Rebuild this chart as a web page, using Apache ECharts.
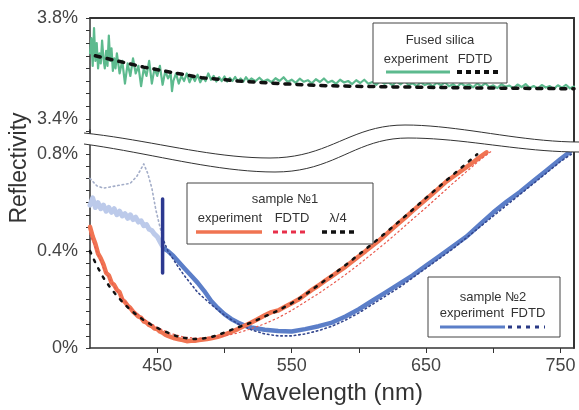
<!DOCTYPE html>
<html>
<head>
<meta charset="utf-8">
<script src="https://cdn.jsdelivr.net/npm/echarts@6/dist/echarts.min.js"></script>
<style>
  html, body { margin: 0; padding: 0; background: #fff; }
  #chart { width: 579px; height: 410px; }
</style>
</head>
<body>
<div id="chart"></div>
<script>
// ---- data (wavelength in nm, reflectivity in %) ----
const silicaExpX = [400,401,402,403,404,405,406,407,408,409,410,411,412,413,414,415,416,417,418,419,420,422,424,426,428,430,432,434,436,438,440,442,444,446,448,450,452,454,456,458,460,461,462,464,466,468,470,472,474,476,478,480,482,484,486,488,490,492,494,496,498,500,502,504,506,508,510,512,514,516,518,
  520,523,526,529,532,535,538,541,544,547,550,553,556,559,562,565,568,571,574,577,580,583,586,589,592,595,598,601,604,607,610,613,616,619,622,625,628,631,634,637,640,643,646,649,652,655,658,661,664,667,670,673,676,679,682,685,688,691,694,697,700,703,706,709,712,715,718,721,724,727,730,733,736,739,742,745,748,751,754,757,760];
const silicaExpY = [3.66,3.72,3.61,3.76,3.63,3.70,3.60,3.66,3.62,3.71,3.64,3.60,3.67,3.61,3.73,3.63,3.68,3.59,3.64,3.60,3.66,3.58,3.63,3.54,3.62,3.57,3.64,3.58,3.61,3.53,3.60,3.57,3.63,3.54,3.60,3.57,3.61,3.535,3.59,3.56,3.58,3.51,3.55,3.58,3.54,3.57,3.55,3.58,3.545,3.57,3.55,3.575,3.545,3.565,3.55,3.58,3.555,3.57,3.548,3.565,3.55,3.568,3.548,3.562,3.55,3.566,3.549,3.56,3.547,3.565,3.55,
  3.560,3.549,3.563,3.548,3.556,3.545,3.561,3.550,3.565,3.546,3.555,3.543,3.559,3.547,3.553,3.541,3.557,3.546,3.560,3.544,3.551,3.539,3.555,3.544,3.550,3.538,3.553,3.542,3.555,3.539,3.546,3.535,3.550,3.539,3.545,3.533,3.548,3.537,3.550,3.534,3.541,3.530,3.545,3.534,3.540,3.529,3.543,3.533,3.545,3.529,3.537,3.526,3.541,3.530,3.536,3.525,3.540,3.529,3.541,3.526,3.533,3.522,3.537,3.527,3.532,3.521,3.536,3.526,3.538,3.522,3.530,3.520,3.534,3.524,3.530,3.519,3.533,3.523,3.535,3.521,3.528];
const silicaFdtdX = [404,420,440,460,483,510,543,577,620,680,760];
const silicaFdtdY = [3.65,3.63,3.605,3.585,3.563,3.55,3.539,3.531,3.527,3.523,3.519];

const s1ExpX = [400,402,404,406,408,410,412,414,416,418,420,422,424,426,428,430,432,434,436,438,440,442,444,446,448,450,452,454,456,458,460,463,466,469,472,475,478,481,484,487,490,495,500,505,510,515,520,525,530,535,540,545,550,555,560,565,570,575,580,585,590,595,600,605,610,615,620,625,630,635,640,645,650,655,660,665,670,675,680,685,690,695];
const s1ExpY = [0.50,0.46,0.43,0.39,0.37,0.345,0.31,0.30,0.27,0.26,0.24,0.23,0.20,0.19,0.175,0.165,0.15,0.14,0.13,0.125,0.11,0.105,0.095,0.09,0.08,0.078,0.068,0.063,0.055,0.05,0.046,0.04,0.036,0.033,0.028,0.03,0.03,0.033,0.035,0.037,0.04,0.046,0.055,0.066,0.078,0.092,0.105,0.12,0.135,0.148,0.155,0.17,0.185,0.20,0.22,0.24,0.258,0.278,0.297,0.316,0.335,0.357,0.379,0.40,0.422,0.444,0.468,0.493,0.517,0.541,0.566,0.59,0.614,0.638,0.662,0.687,0.707,0.727,0.747,0.767,0.788,0.808];
const s1FdtdX = [400,410,420,430,440,450,460,470,480,490,500,510,520,530,540,550,560,570,580,590,600,610,620,630,640,650,660,670,680,690,698];
const s1FdtdY = [0.47,0.33,0.235,0.165,0.12,0.085,0.06,0.045,0.04,0.042,0.05,0.062,0.08,0.10,0.125,0.155,0.19,0.225,0.263,0.303,0.345,0.39,0.435,0.483,0.532,0.58,0.63,0.68,0.728,0.776,0.81];
const quarterX = [400,405,410,415,420,425,430,435,440,445,450,455,460,465,470,475,480,485,490,495,500,510,520,530,540,550,560,570,580,590,600,610,620,630,640,650,660,670,680,688];
const quarterY = [0.40,0.34,0.29,0.25,0.215,0.185,0.158,0.135,0.115,0.098,0.083,0.07,0.058,0.048,0.042,0.038,0.037,0.04,0.045,0.053,0.064,0.085,0.105,0.13,0.155,0.185,0.22,0.26,0.30,0.342,0.386,0.43,0.476,0.523,0.571,0.62,0.668,0.715,0.762,0.80];

const s2ExpLightX = [400,402,404,406,408,410,412,414,416,418,420,422,424,426,428,430,432,434,436,438,440,442,444,446,448,450,452,454];
const s2ExpLightY = [0.59,0.62,0.58,0.60,0.575,0.59,0.565,0.58,0.56,0.575,0.55,0.565,0.545,0.555,0.535,0.55,0.53,0.54,0.52,0.525,0.505,0.51,0.49,0.485,0.47,0.46,0.44,0.42];
const s2ExpX = [455,458,462,466,470,475,480,485,490,495,500,505,510,515,520,530,540,550,560,570,580,590,600,610,620,630,640,650,660,670,680,690,700,710,720,730,740,750,757];
const s2ExpY = [0.41,0.40,0.38,0.355,0.33,0.30,0.27,0.235,0.195,0.165,0.14,0.12,0.105,0.093,0.085,0.075,0.07,0.068,0.078,0.09,0.105,0.13,0.16,0.195,0.23,0.265,0.30,0.34,0.38,0.42,0.46,0.51,0.56,0.605,0.645,0.69,0.735,0.78,0.81];
const s2FdtdLightX = [400,405,410,415,420,425,430,435,440,443,446,449,452,455];
const s2FdtdLightY = [0.70,0.67,0.66,0.665,0.67,0.675,0.68,0.71,0.76,0.72,0.66,0.57,0.50,0.44];
const s2FdtdX = [455,458,465,470,480,490,500,510,520,530,540,550,560,570,580,590,600,610,620,630,640,650,660,670,680,690,700,710,720,730,740,750,758];
const s2FdtdY = [0.44,0.40,0.34,0.30,0.23,0.18,0.135,0.10,0.075,0.058,0.05,0.05,0.058,0.072,0.09,0.115,0.145,0.18,0.215,0.25,0.29,0.33,0.37,0.41,0.455,0.50,0.545,0.59,0.635,0.68,0.725,0.77,0.80];
const markerX = [454,454];
const markerY = [0.31,0.615];

// ---- ticks / labels ----
const xTicks = [450,500,550,600,650,700,750];
const xLabels = [450,550,650,750];
const topTicks = [3.35,3.4,3.45,3.5,3.55,3.6,3.65,3.7,3.75,3.8];
const topLabels = [3.4,3.8];
const lowTicks = [0,0.05,0.1,0.15,0.2,0.25,0.3,0.35,0.4,0.45,0.5,0.55,0.6,0.65,0.7,0.75,0.8];
const lowLabels = [0,0.4,0.8];

const zip = (xs, ys) => xs.map((x, i) => [x, ys[i]]);
const pct = v => (Math.round(v * 10) / 10) + '%';

const FONT = 'Liberation Sans, Arial, sans-serif';
const AXIS = '#333';

const chart = echarts.init(document.getElementById('chart'));

function line(name, xs, ys, grid, color, width, type) {
  return {
    name: name,
    type: 'line',
    xAxisIndex: grid,
    yAxisIndex: grid === 0 ? 0 : 2,
    data: zip(xs, ys),
    showSymbol: false,
    symbol: 'none',
    animation: false,
    lineStyle: { color: color, width: width, type: type || 'solid', cap: 'round', join: 'round' },
    z: 3
  };
}

// legend helpers (drawn as graphic boxes like in the figure)
function txt(x, y, s) {
  return { type: 'text', x: x, y: y, z: 110,
    style: { text: s, fill: '#333', font: '13px ' + FONT, align: 'center', verticalAlign: 'middle' } };
}
function seg(x1, x2, y, color, width, dash) {
  return { type: 'line', z: 110, shape: { x1: x1, y1: y, x2: x2, y2: y },
    style: { stroke: color, lineWidth: width, lineDash: dash || null } };
}
function box(x, y, w, h) {
  return { type: 'rect', z: 105, shape: { x: x, y: y, width: w, height: h },
    style: { fill: '#fff', stroke: '#444', lineWidth: 1 } };
}

// axis break: two wavy curves made of cubic bezier pieces [x0,y0, c1x,c1y, c2x,c2y, x1,y1]
const upperCurve = [
  [84,133, 150,140, 210,158, 270,158],
  [270,158, 330,158, 350,125, 405,125],
  [405,125, 460,125, 520,142, 579,142]
];
const lowerCurve = [
  [84,144, 150,153, 215,172, 275,172],
  [275,172, 335,172, 355,138, 408,138],
  [408,138, 465,138, 520,152, 579,152]
];

function sample(curve) {
  const pts = [];
  curve.forEach(s => {
    for (let k = 0; k <= 20; k++) {
      const t = k / 20, u = 1 - t;
      const a = u * u * u, b = 3 * u * u * t, c = 3 * u * t * t, d = t * t * t;
      pts.push([a * s[0] + b * s[2] + c * s[4] + d * s[6], a * s[1] + b * s[3] + c * s[5] + d * s[7]]);
    }
  });
  return pts;
}
const upperPts = sample(upperCurve);
const lowerPts = sample(lowerCurve);

const options = {
  backgroundColor: '#fff',
  textStyle: { fontFamily: FONT },
  grid: [
    { left: 90, right: 5, top: 18, height: 126 },
    { left: 90, right: 5, top: 130, height: 223 }
  ],
  xAxis: [
    {
      gridIndex: 0, type: 'value', min: 400, max: 760, position: 'top',
      axisLine: { show: true, lineStyle: { color: AXIS, width: 2 } },
      axisTick: { show: false }, axisLabel: { show: false }, splitLine: { show: false }
    },
    {
      gridIndex: 1, type: 'value', min: 400, max: 760, position: 'bottom',
      name: 'Wavelength (nm)', nameLocation: 'middle', nameGap: 33,
      nameTextStyle: { fontSize: 24, color: '#333', fontFamily: FONT },
      axisLine: { show: true, onZero: false, lineStyle: { color: AXIS, width: 1.5 } },
      axisTick: { show: true, length: 5, customValues: xTicks, lineStyle: { color: AXIS } },
      axisLabel: { customValues: xLabels, fontSize: 18, color: '#444', margin: 9, fontFamily: FONT },
      splitLine: { show: false }
    }
  ],
  yAxis: [
    {
      gridIndex: 0, type: 'value', min: 3.3, max: 3.8,
      axisLine: { show: true, lineStyle: { color: AXIS, width: 1.5 } },
      axisTick: { show: true, length: 4, customValues: topTicks, lineStyle: { color: AXIS } },
      axisLabel: { customValues: topLabels, formatter: pct, fontSize: 18, color: '#444', margin: 12, fontFamily: FONT },
      splitLine: { show: false }
    },
    {
      gridIndex: 0, type: 'value', min: 3.3, max: 3.8, position: 'right',
      axisLine: { show: true, lineStyle: { color: AXIS, width: 2 } },
      axisTick: { show: false }, axisLabel: { show: false }, splitLine: { show: false }
    },
    {
      gridIndex: 1, type: 'value', min: 0, max: 0.9,
      axisLine: { show: true, lineStyle: { color: AXIS, width: 1.5 } },
      axisTick: { show: true, length: 4, customValues: lowTicks, lineStyle: { color: AXIS } },
      axisLabel: { customValues: lowLabels, formatter: pct, fontSize: 18, color: '#444', margin: 12, fontFamily: FONT },
      splitLine: { show: false }
    },
    {
      gridIndex: 1, type: 'value', min: 0, max: 0.9, position: 'right',
      axisLine: { show: true, lineStyle: { color: AXIS, width: 2 } },
      axisTick: { show: false }, axisLabel: { show: false }, splitLine: { show: false }
    }
  ],
  series: [
    line('Fused silica experiment', silicaExpX, silicaExpY, 0, '#5dba8e', 2.2),
    line('Fused silica FDTD', silicaFdtdX, silicaFdtdY, 0, '#111', 3.5, [5, 7]),

    line('sample 2 FDTD (light)', s2FdtdLightX, s2FdtdLightY, 1, '#a3adc8', 1.6, [1.5, 3]),
    line('sample 2 experiment (light)', s2ExpLightX, s2ExpLightY, 1, '#bccaea', 5),
    line('sample 2 experiment', s2ExpX, s2ExpY, 1, '#5b7ec8', 4.5),
    line('sample 2 FDTD', s2FdtdX, s2FdtdY, 1, '#34478f', 1.6, [1.5, 3]),
    line('sample 1 experiment', s1ExpX, s1ExpY, 1, '#f07452', 4.5),
    line('sample 1 FDTD', s1FdtdX, s1FdtdY, 1, '#ea5a4e', 1.2, [1.5, 3]),
    line('lambda/4', quarterX, quarterY, 1, '#111', 2.5, [2.5, 7]),
    line('marker', markerX, markerY, 1, '#2c3990', 3.5)
  ],
  graphic: [
    // axis break
    { type: 'polygon', z: 100, shape: { points: upperPts.concat(lowerPts.slice().reverse()) },
      style: { fill: '#fff' } },
    { type: 'polyline', z: 101, shape: { points: upperPts }, style: { fill: null, stroke: '#333', lineWidth: 1 } },
    { type: 'polyline', z: 101, shape: { points: lowerPts }, style: { fill: null, stroke: '#333', lineWidth: 1 } },

    // y axis title
    { type: 'text', x: 20, y: 168, rotation: Math.PI / 2, z: 110,
      style: { text: 'Reflectivity', fill: '#333', font: '23px ' + FONT, align: 'center', verticalAlign: 'middle' } },

    // legend: fused silica
    box(373, 23, 134, 60),
    txt(440, 40, 'Fused silica'),
    txt(416, 59, 'experiment'),
    txt(475, 59, 'FDTD'),
    seg(386, 450, 72, '#5dba8e', 3),
    seg(457, 498, 72, '#111', 4, [5, 4]),

    // legend: sample 1
    box(187, 183, 186, 61),
    txt(285, 199, 'sample №1'),
    txt(230, 218, 'experiment'),
    txt(292, 218, 'FDTD'),
    txt(338, 218, 'λ/4'),
    seg(196, 262, 232, '#f07452', 3.5),
    seg(273, 308, 232, '#e8304a', 3, [5, 4]),
    seg(322, 358, 232, '#111', 3.5, [5, 4]),

    // legend: sample 2
    box(428, 277, 132, 60),
    txt(493, 297, 'sample №2'),
    txt(472, 313, 'experiment'),
    txt(528, 313, 'FDTD'),
    seg(440, 505, 327, '#5b7ec8', 3),
    seg(508, 545, 327, '#2a3a86', 3, [4, 5])
  ]
};

chart.setOption(options);
</script>
</body>
</html>
